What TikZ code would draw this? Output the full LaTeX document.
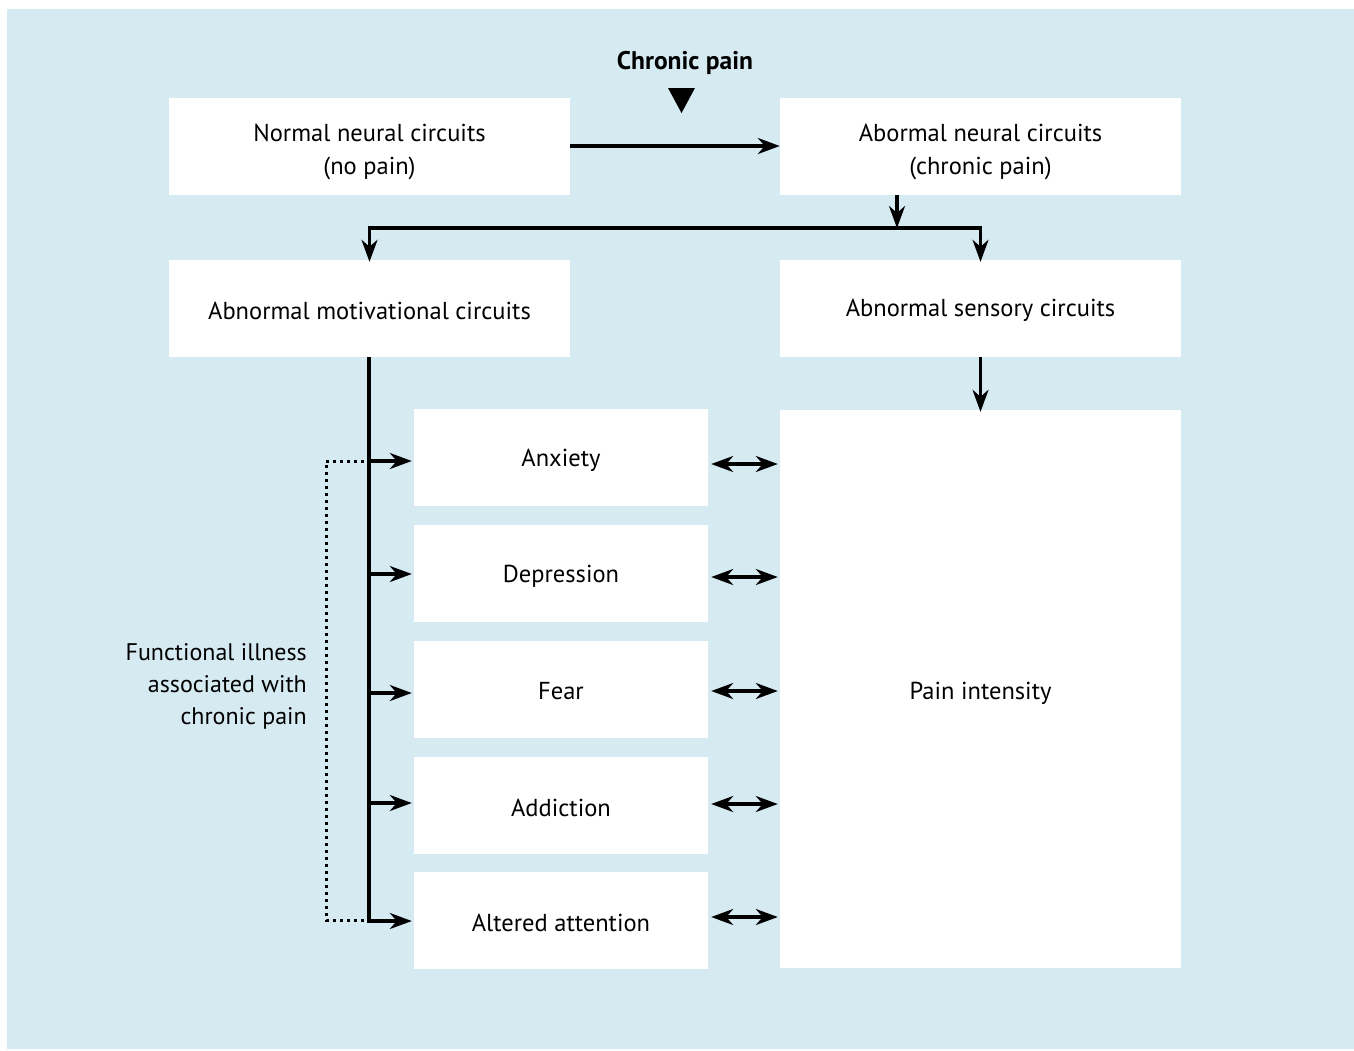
\documentclass[tikz,border=0pt]{standalone}
\usepackage{fontspec}
\setmainfont{PT Sans}
\usetikzlibrary{arrows.meta}
\definecolor{bgblue}{HTML}{D6EAF1}
\begin{document}
\begin{tikzpicture}[x=1pt,y=-1pt,
  box/.style={fill=white,draw=none,minimum width=401pt,minimum height=97pt,inner sep=0pt},
  sbox/.style={box,minimum width=294pt},
  txt/.style={align=center,inner sep=0pt,font=\fontsize{24.5}{33}\selectfont},
  conn/.style={line width=3.2pt,-{Stealth[length=22pt,width=16pt,inset=7pt]}},
  dconn/.style={line width=3.2pt,{Stealth[length=22pt,width=16pt,inset=7pt]}-{Stealth[length=22pt,width=16pt,inset=7pt]}},
  plain/.style={line width=3.2pt},
  dotline/.style={line width=3pt,dash pattern=on 3pt off 4pt}]
\useasboundingbox (0,0) rectangle (1354,1050);
\fill[bgblue] (7,9) rectangle (1354,1049);
\node[font=\fontsize{25.5}{30}\selectfont\bfseries] (cp) at (685,63) {Chronic pain};
\fill (668,88) -- (695,88) -- (681.5,113) -- cycle;
\node[box] (N) at (369.5,146.5) {};
\node[box] (A) at (980.5,146.5) {};
\node[box] (M) at (369.5,308.5) {};
\node[box] (S) at (980.5,308.5) {};
\node[box,minimum height=558pt] (P) at (980.5,689) {};
\node[sbox] (an) at (561,457.5) {};
\node[sbox] (de) at (561,573.5) {};
\node[sbox] (fe) at (561,689.5) {};
\node[sbox] (ad) at (561,805) {};
\node[sbox] (at) at (561,920) {};
\node[txt] (tN) at ([yshift=-5pt]N.center) {Normal neural circuits\\(no pain)};
\node[txt] (tA) at ([yshift=-5pt]A.center) {Abormal neural circuits\\(chronic pain)};
\node[txt] (tM) at ([yshift=-2pt]M.center) {Abnormal motivational circuits};
\node[txt] (tS) at ([yshift=-2pt]S.center) {Abnormal sensory circuits};
\node[txt] (tP) at ([yshift=-4pt]P.center) {Pain intensity};
\node[txt] (tan) at ([yshift=-3pt]an.center) {Anxiety};
\node[txt] (tde) at ([yshift=-3pt]de.center) {Depression};
\node[txt] (tfe) at ([yshift=-2pt]fe.center) {Fear};
\node[txt] (tad) at ([yshift=-3pt]ad.center) {Addiction};
\node[txt] (tat) at ([yshift=-3pt]at.center) {Altered attention};
\node[anchor=east,align=right,inner sep=0pt,font=\fontsize{24}{32}\selectfont] (fi) at (307,686) {Functional illness\\associated with\\chronic pain};
\coordinate (j) at (897,228);
\coordinate (tb) at (369,921);
\draw[conn] ([yshift=0.5pt]N.east) -- ([yshift=0.5pt]A.west);
\draw[conn] (A.south -| j) -- (j);
\draw[conn] (j) -| ([yshift=-2pt]M.north);
\draw[conn] (j) -| ([yshift=-2pt]S.north);
\draw[conn] (S.south) -- ([yshift=-2pt]P.north);
\draw[plain] (M.south -| tb) -- ([yshift=1.6pt]tb);
\draw[conn,shorten >=2pt] (tb |- 0,461) -- (an.west |- 0,461);
\draw[conn,shorten >=2pt] (tb |- 0,574) -- (de.west |- 0,574);
\draw[conn,shorten >=2pt] (tb |- 0,693) -- (fe.west |- 0,693);
\draw[conn,shorten >=2pt] (tb |- 0,803) -- (ad.west |- 0,803);
\draw[conn,shorten >=2pt] ([xshift=-1.6pt]tb) -- (at.west |- tb);
\draw[dconn,shorten <=3pt,shorten >=2pt] (an.east |- 0,464) -- (P.west |- 0,464);
\draw[dconn,shorten <=3pt,shorten >=2pt] (de.east |- 0,577) -- (P.west |- 0,577);
\draw[dconn,shorten <=3pt,shorten >=2pt] (fe.east |- 0,691) -- (P.west |- 0,691);
\draw[dconn,shorten <=3pt,shorten >=2pt] (ad.east |- 0,804) -- (P.west |- 0,804);
\draw[dconn,shorten <=3pt,shorten >=2pt] (at.east |- 0,917) -- (P.west |- 0,917);
\coordinate (d1) at (364,461);
\coordinate (d2) at (364,920);
\draw[dotline] (d1) -- (326,461) -- (326,920) -- (d2);
\end{tikzpicture}
\end{document}
